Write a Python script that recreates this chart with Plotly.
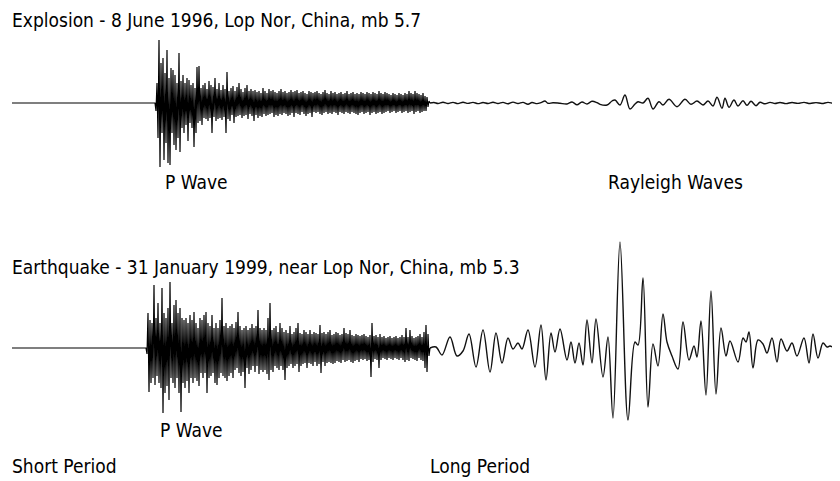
import numpy as np
import plotly.graph_objects as go

PAGE_W, PAGE_H = 840, 481
BODY_MARGIN = 8                      # default HTML body margin of the written page
W, H = PAGE_W - BODY_MARGIN, PAGE_H - BODY_MARGIN

# ---------------- Explosion (8 June 1996) ----------------
EXP_TRACE_START = 12
EXP_SP_START = 155          # P-wave onset (sample index, 1 sample per unit)
EXP_SP = [
    0, -8, 20, -35, 63, -64, 40, -30, 45, -57,
    30, -40, 53, -60, 25, -62, 35, -30, 33, -42,
    28, -47, 20, -35, 50, -49, 22, -25, 28, -30,
    20, -22, 25, -38, 23, -20, 18, -25, 20, -44,
    15, -30, 36, -20, 37, -18, 15, -22, 18, -15,
    20, -16, 14, -18, 22, -15, 18, -30, 16, -14,
    25, -18, 14, -16, 20, -15, 13, -17, 18, -14,
    14, -30, 31, -16, 12, -18, 15, -12, 17, -20,
    12, -14, 16, -13, 20, -12, 14, -15, 11, -13,
    15, -12, 18, -16, 12, -11, 14, -13, 12, -18,
    13, -12, 11, -15, 12, -13, 10, -14, 15, -11,
    12, -13, 10, -12, 14, -11, 12, -10, 13, -14,
    11, -12, 10, -13, 12, -11, 14, -12, 11, -10,
    12, -11, 10, -13, 11, -12, 13, -10, 11, -14,
    12, -10, 13, -11, 10, -12, 11, -9, 12, -11,
    10, -13, 9, -11, 12, -10, 11, -14, 10, -9,
    11, -10, 12, -9, 10, -11, 9, -12, 11, -10,
    13, -9, 10, -11, 9, -10, 12, -11, 10, -9,
    11, -10, 9, -12, 10, -9, 11, -10, 9, -11,
    10, -9, 12, -10, 9, -11, 10, -9, 11, -10,
    9, -11, 10, -12, 9, -10, 11, -9, 10, -11,
    9, -10, 11, -9, 10, -12, 9, -10, 11, -9,
    10, -11, 9, -10, 12, -9, 10, -11, 9, -10,
    11, -9, 10, -8, 9, -10, 8, -9, 10, -8,
    9, -10, 8, -9, 10, -8, 9, -10, 8, -9,
    10, -8, 9, -10, 12, -9, 10, -8, 9, -11,
    12, -9, 10, -8, 9, -10, 8, -9, 10, -8,
    7, -8, 6, -4, 2, 0,
]
EXP_LP_T = [430, 434, 438, 443, 448, 453, 458, 463, 468, 473, 478, 483, 488, 493, 498,
            503, 508, 513, 518, 523, 528, 532, 537, 541, 545, 548, 553, 560, 567, 572,
            577, 582, 587, 592, 597, 600, 607, 612, 615, 620, 625, 630, 635, 638, 643,
            648, 653, 659, 663, 669, 677, 685, 691, 697, 703, 708, 713, 717, 722, 725,
            729, 734, 738, 743, 747, 751, 756, 760, 765, 770, 775, 780, 786, 792, 798,
            804, 810, 816, 822, 828, 834, 840]
EXP_LP = [0, 0.5, -0.5, 0.7, -0.5, 0.6, -0.6, 0.8, -0.4, 0.6, -0.6, 0.5, -0.5, 0.7, -0.5,
          0.6, -0.7, 0.9, -0.5, 0.6, -1.2, 0.5, -0.6, 0.4, 2.0, -0.3, 0.3, -0.3, -1.0, 1.0,
          -1.7, 1.0, -1.0, 1.7, 0.3, -1.3, -2.0, 2.0, 3.0, -2.0, 8.0, -6.0, -1.0, 1.3, 0.0,
          4.7, -6.0, 1.3, -2.0, 3.7, -3.7, 3.7, -1.3, 2.0, -2.0, 2.0, -3.0, 5.7, -5.3, 4.7,
          -4.3, 3.0, -3.0, 2.3, -2.3, 1.7, -2.7, 0.7, -0.8, 0.6, -0.5, 0.5, -0.6, 0.5, -0.4,
          0.6, -0.5, 0.4, -0.5, 0.6, -0.4, 0.3]

# ---------------- Earthquake (31 January 1999) ----------------
EQ_TRACE_START = 12
EQ_SP_START = 146
EQ_SP = [
    0, -6, 35, -44, 28, -35, 25, -30, 63, -37,
    30, -28, 45, -35, 25, -40, 60, -65, 35, -45,
    30, -38, 40, -52, 66, -30, 25, -35, 43, -40,
    48, -30, 35, -45, 40, -64, 30, -35, 28, -40,
    30, -33, 25, -45, 33, -30, 28, -35, 36, -30,
    25, -33, 20, -38, 30, -25, 28, -30, 33, -25,
    36, -45, 25, -30, 22, -28, 33, -25, 20, -35,
    25, -37, 20, -30, 28, -25, 50, -28, 22, -30,
    25, -33, 20, -28, 22, -25, 24, -30, 20, -22,
    26, -20, 36, -25, 22, -28, 18, -24, 20, -40,
    22, -20, 18, -26, 20, -22, 24, -18, 20, -24,
    22, -18, 38, -26, 20, -22, 18, -24, 20, -22,
    18, -26, 30, -32, 45, -22, 18, -24, 20, -18,
    22, -20, 16, -22, 25, -18, 20, -22, 16, -32,
    18, -20, 15, -18, 22, -16, 14, -20, 16, -18,
    20, -16, 25, -24, 15, -18, 14, -16, 18, -15,
    16, -20, 14, -15, 18, -16, 14, -18, 16, -14,
    15, -18, 14, -16, 23, -25, 15, -14, 16, -18,
    14, -15, 16, -14, 18, -15, 13, -16, 14, -15,
    16, -13, 15, -14, 13, -15, 14, -12, 20, -14,
    15, -13, 14, -12, 18, -14, 13, -15, 12, -13,
    14, -12, 13, -14, 12, -11, 13, -12, 14, -11,
    12, -13, 11, -12, 13, -29, 25, -14, 12, -11,
    13, -12, 11, -20, 14, -12, 11, -10, 12, -11,
    10, -12, 11, -10, 12, -11, 10, -12, 11, -10,
    12, -11, 10, -12, 11, -10, 13, -12, 11, -14,
    20, -12, 11, -13, 18, -10, 12, -11, 10, -12,
    11, -13, 12, -10, 14, -12, 11, -13, 16, -20,
    23, -24, 14, -8, 0,
]
EQ_LP_T = [430, 436, 442, 450, 457, 463, 469, 476, 483, 490, 496, 502, 508, 513, 518,
           522, 528, 535, 541, 546, 551, 555, 560, 567, 571, 575, 579, 583, 587, 592,
           596, 603, 608, 613, 620, 628, 635, 638, 643, 648, 653, 658, 663, 667, 672,
           678, 683, 689, 694, 697, 701, 706, 711, 716, 721, 726, 730, 738, 743, 746,
           749, 753, 758, 763, 767, 772, 777, 781, 787, 792, 797, 804, 809, 813, 818,
           823, 827, 830, 834, 837, 840]
EQ_LP = [0, 1, -7, 11, -8, -3, 14, -19, 18, -24, 15, -15, 10, -1, 5,
         -1, 18, -19, 23, -32, 15, -4, 19, -12, 6, -15, 5, -17, 28, -15,
         29, -29, 11, -70, 106, -72, 6, 3, 70, -59, 4, -18, 34, 6, -8,
         -21, 26, -12, 2, -9, 27, -47, 57, -46, 20, -8, 7, -14, 10, 6,
         16, -20, 8, 4, -5, 10, -14, 9, -3, 5, -8, 10, -15, 14, -10,
         5, 1, 2, 0, -2, 2]

# ---------------- Labels ----------------
TITLE_EXP = "Explosion - 8 June 1996, Lop Nor, China, mb 5.7"
TITLE_EQ = "Earthquake - 31 January 1999, near Lop Nor, China, mb 5.3"
LBL_P = "P Wave"
LBL_RAYLEIGH = "Rayleigh Waves"
LBL_SHORT = "Short Period"
LBL_LONG = "Long Period"

FONT = dict(family="DejaVu Sans Condensed, Liberation Sans Narrow, sans-serif", size=19, color="black")

fig = go.Figure()


def add_seismogram(trace_start, sp_start, sp_vals, lp_t, lp_vals, yaxis):
    t_sp = sp_start + np.arange(len(sp_vals))
    x = np.concatenate([[trace_start], t_sp])
    y = np.concatenate([[0], sp_vals])
    fig.add_trace(go.Scatter(x=x, y=y, mode="lines", yaxis=yaxis,
                             line=dict(color="black", width=1.2), hoverinfo="skip"))
    fig.add_trace(go.Scatter(x=lp_t, y=lp_vals, mode="lines", yaxis=yaxis,
                             line=dict(color="#111111", width=1.4, shape="spline", smoothing=1.0),
                             hoverinfo="skip"))


add_seismogram(EXP_TRACE_START, EXP_SP_START, EXP_SP, EXP_LP_T, EXP_LP, "y")
add_seismogram(EQ_TRACE_START, EQ_SP_START, EQ_SP, EQ_LP_T, EQ_LP, "y2")

# axis geometry (1 amplitude unit ~ 1 page px); page px -> figure px via body margin
exp_base_px, eq_base_px = 103 - BODY_MARGIN, 348 - BODY_MARGIN
d1 = [0.5, 1.0]
d2 = [0.0, 0.53]
top1 = H * (1 - d1[1]); span1 = H * (d1[1] - d1[0])
top2 = H * (1 - d2[1]); span2 = H * (d2[1] - d2[0])
r1_hi = exp_base_px - top1
r2_hi = eq_base_px - top2


def py(p):
    return 1 - (p - BODY_MARGIN) / H


def label(text, x, ypx):
    fig.add_annotation(text=text, x=x, xref="x", y=py(ypx), yref="paper",
                       xanchor="left", yanchor="middle", showarrow=False, font=FONT)


label(TITLE_EXP, 10, 20)
label(LBL_P, 163, 182)
label(LBL_RAYLEIGH, 606, 182)
label(TITLE_EQ, 10, 267)
label(LBL_P, 158, 430)
label(LBL_SHORT, 10, 466)
label(LBL_LONG, 428, 466)

fig.update_layout(
    width=W, height=H,
    margin=dict(l=0, r=0, t=0, b=0),
    paper_bgcolor="white", plot_bgcolor="white",
    showlegend=False,
    xaxis=dict(range=[BODY_MARGIN, PAGE_W], visible=False, fixedrange=True),
    yaxis=dict(domain=d1, range=[r1_hi - span1, r1_hi], visible=False, fixedrange=True),
    yaxis2=dict(domain=d2, range=[r2_hi - span2, r2_hi], visible=False, fixedrange=True),
)

fig.write_html("out.html")
